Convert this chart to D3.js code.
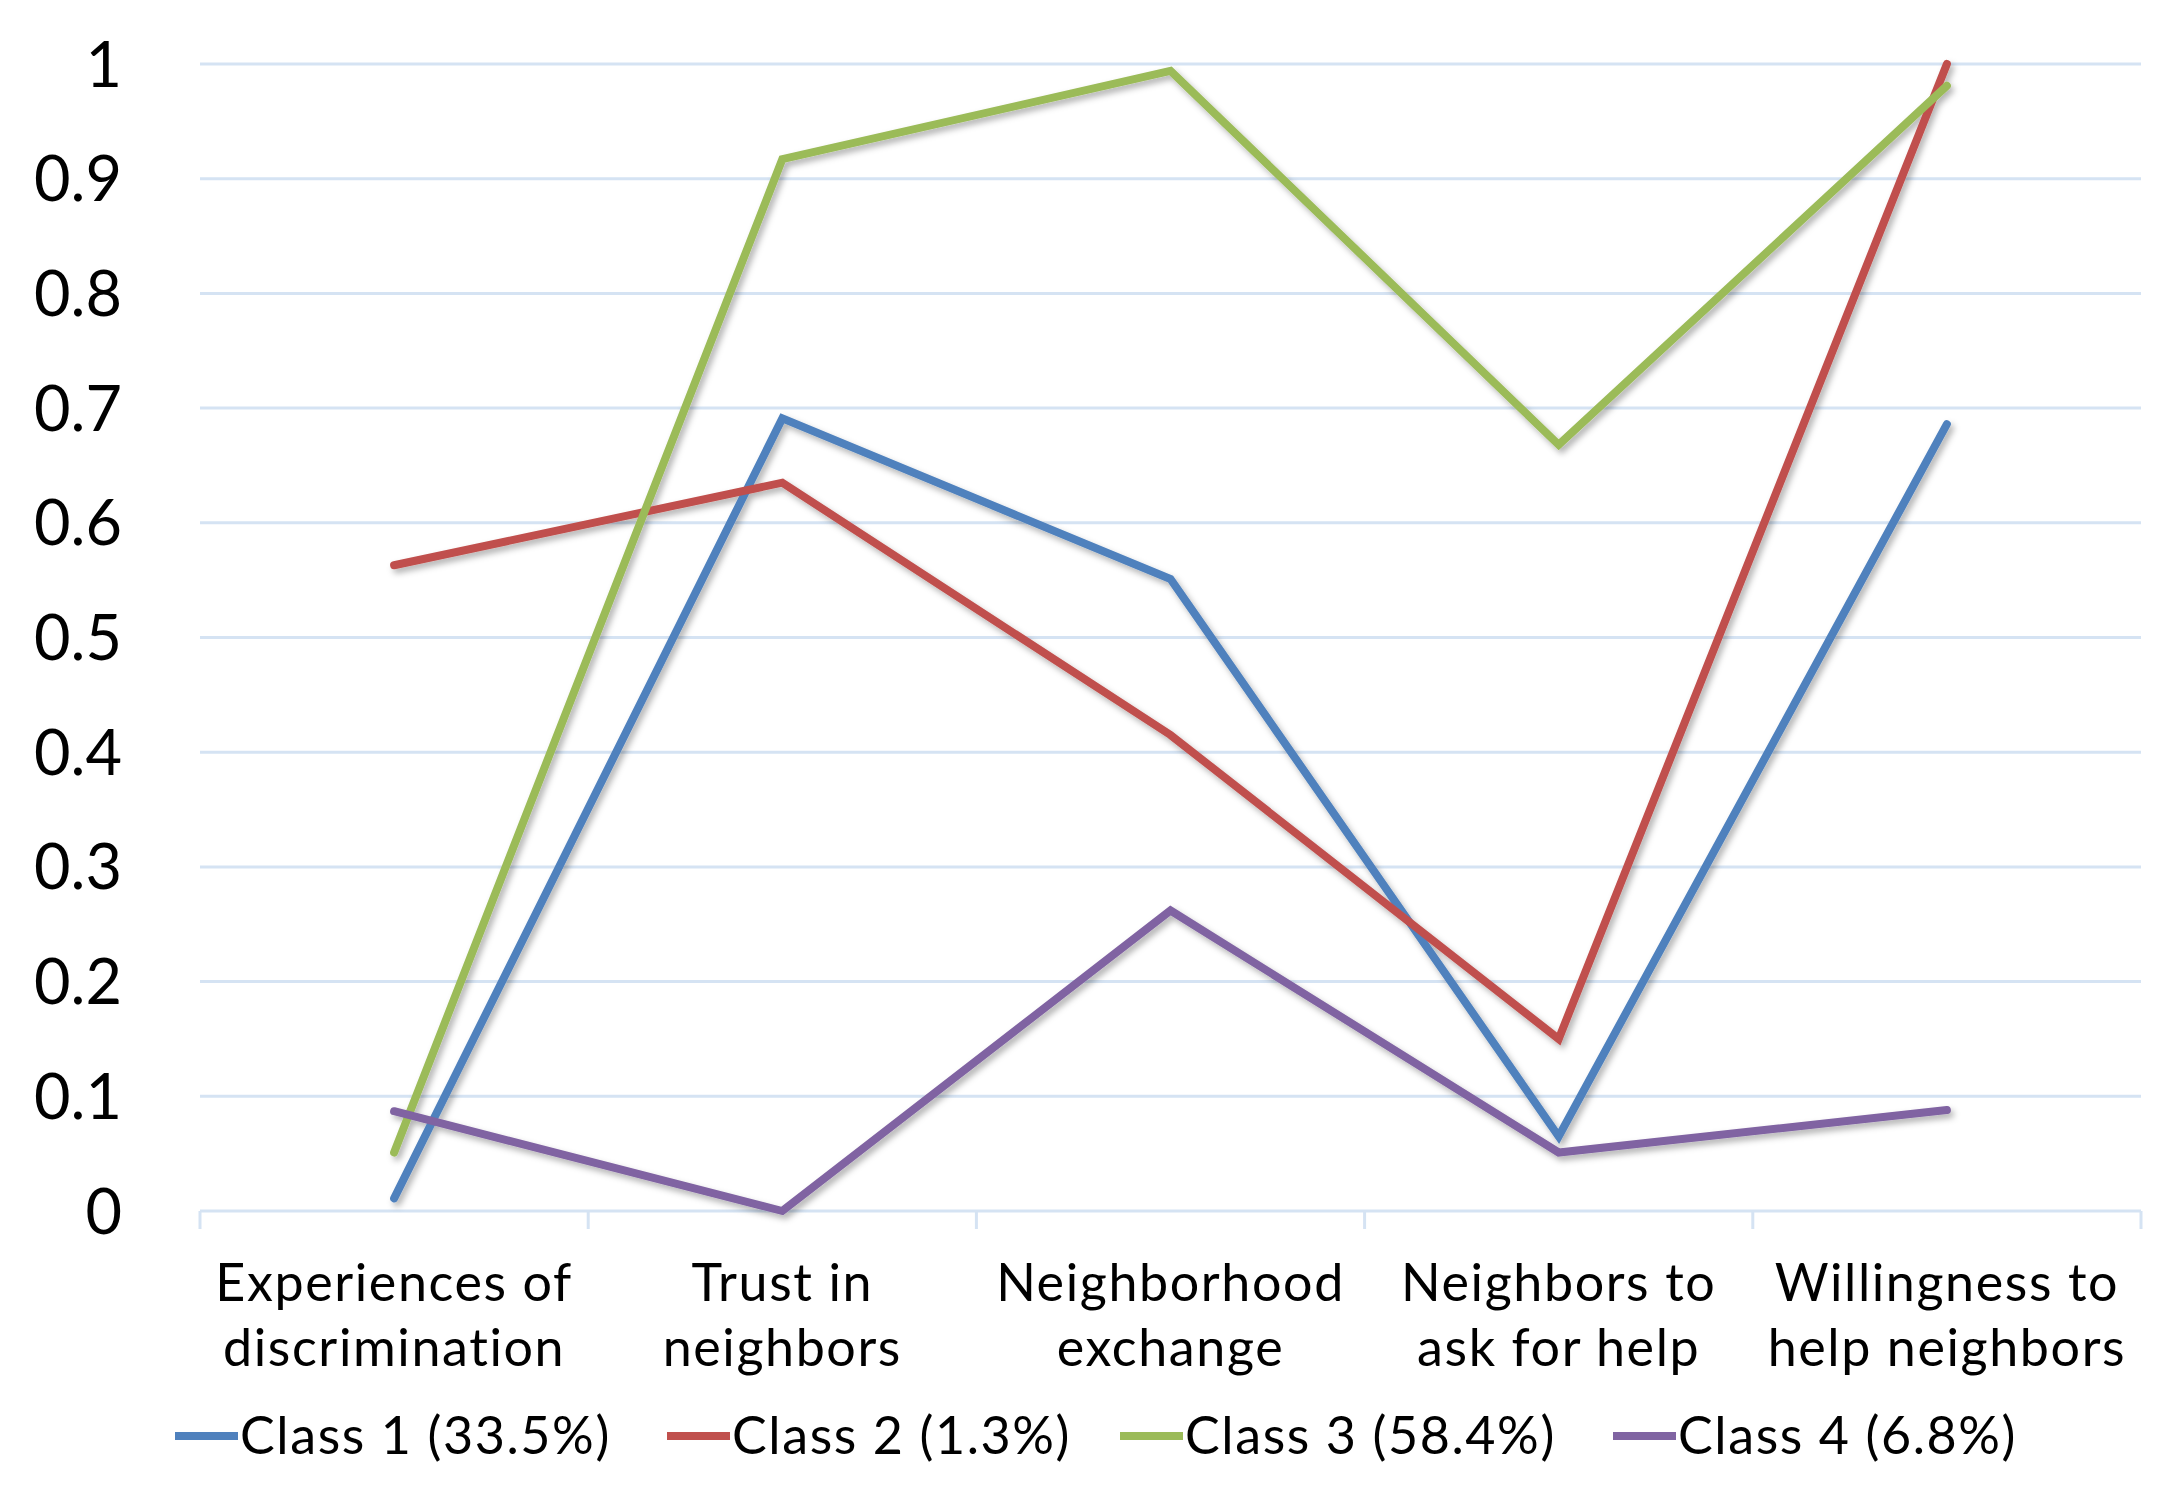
<!DOCTYPE html>
<html>
<head>
<meta charset="utf-8">
<script src="https://cdn.jsdelivr.net/npm/d3@7"></script>
<style>
html,body{margin:0;padding:0;background:#fff;}
svg{display:block;}
text{font-family:Lato,"Noto Sans",sans-serif;fill:#000;}
</style>
</head>
<body>
<svg id="chart" width="2173" height="1506"></svg>
<script>
const categories = [
  ["Experiences of","discrimination"],
  ["Trust in","neighbors"],
  ["Neighborhood","exchange"],
  ["Neighbors to","ask for help"],
  ["Willingness to","help neighbors"]
];
const seriesNames = ["Class 1 (33.5%)","Class 2 (1.3%)","Class 3 (58.4%)","Class 4 (6.8%)"];
const class1 = [0.011, 0.691, 0.551, 0.065, 0.686];
const class2 = [0.563, 0.635, 0.415, 0.150, 1.000];
const class3 = [0.051, 0.917, 0.994, 0.668, 0.981];
const class4 = [0.087, 0.000, 0.262, 0.051, 0.088];
const seriesColors = ["#4f81bd","#c0504d","#9bbb59","#8064a2"];
const yTicks = [0,0.1,0.2,0.3,0.4,0.5,0.6,0.7,0.8,0.9,1];

(function(){
const series = [class1,class2,class3,class4];
const svg = d3.select("#chart");
const mLeft = 200, mRight = 2141, mTop = 64, mBottom = 1211;

const x = d3.scaleBand().domain(d3.range(categories.length)).range([mLeft,mRight]).padding(0);
const y = d3.scaleLinear().domain([0,1]).range([mBottom,mTop]);

const defs = svg.append("defs");
const f = defs.append("filter").attr("id","shadow").attr("filterUnits","userSpaceOnUse")
  .attr("x",0).attr("y",0).attr("width",2173).attr("height",1506);
f.append("feDropShadow").attr("dx",3).attr("dy",4).attr("stdDeviation",3).attr("flood-color","#000").attr("flood-opacity",0.3);

const gridColor = "#d5e3f3";
svg.append("g").selectAll("line").data(yTicks.filter(d=>d>0)).join("line")
  .attr("x1",mLeft).attr("x2",mRight)
  .attr("y1",d=>y(d)).attr("y2",d=>y(d))
  .attr("stroke",gridColor).attr("stroke-width",3);

const yAxis = d3.axisLeft(y).tickValues(yTicks).tickSize(0).tickPadding(0).tickFormat(d3.format("~g"));
const yg = svg.append("g").attr("transform",`translate(${mLeft-78},0)`).call(yAxis);
yg.select(".domain").remove();
yg.selectAll("text").attr("font-size",63).attr("font-family","Lato,sans-serif").attr("fill","#000").attr("dy","0.35em");

const xg = svg.append("g").attr("transform",`translate(0,${mBottom})`);
xg.append("line").attr("x1",mLeft).attr("x2",mRight).attr("y1",0).attr("y2",0).attr("stroke",gridColor).attr("stroke-width",3);
const bounds = d3.range(categories.length+1).map(i=> i<categories.length ? x(i) : x(categories.length-1)+x.bandwidth());
xg.selectAll("line.tick").data(bounds).join("line").attr("class","tick")
  .attr("x1",d=>d).attr("x2",d=>d).attr("y1",0).attr("y2",18)
  .attr("stroke",gridColor).attr("stroke-width",3);
const labels = xg.selectAll("text.cat").data(categories).join("text").attr("class","cat")
  .attr("text-anchor","middle").attr("font-size",52).attr("letter-spacing",1.6)
  .attr("x",(d,i)=>x(i)+x.bandwidth()/2);
labels.selectAll("tspan").data(d=>d).join("tspan")
  .attr("x",function(){return this.parentNode.getAttribute("x");})
  .attr("y",(d,i)=> 90 + i*65)
  .text(d=>d);

const line = d3.line().x((d,i)=>x(i)+x.bandwidth()/2).y(d=>y(d));
svg.append("g").attr("filter","url(#shadow)").selectAll("path").data(series).join("path")
  .attr("d",line).attr("fill","none")
  .attr("stroke",(d,i)=>seriesColors[i]).attr("stroke-width",8)
  .attr("stroke-linecap","round").attr("stroke-linejoin","miter");

const legendX = [175,667,1120,1613];
const lg = svg.append("g").attr("transform","translate(0,1436)");
const items = lg.selectAll("g").data(seriesNames).join("g").attr("transform",(d,i)=>`translate(${legendX[i]},0)`);
items.append("line").attr("x1",0).attr("x2",63).attr("y1",0).attr("y2",0)
  .attr("stroke",(d,i)=>seriesColors[i]).attr("stroke-width",8);
items.append("text").attr("x",65).attr("dy","0.35em").attr("font-size",52).attr("letter-spacing",1.6).text(d=>d);
})();
</script>
</body>
</html>
